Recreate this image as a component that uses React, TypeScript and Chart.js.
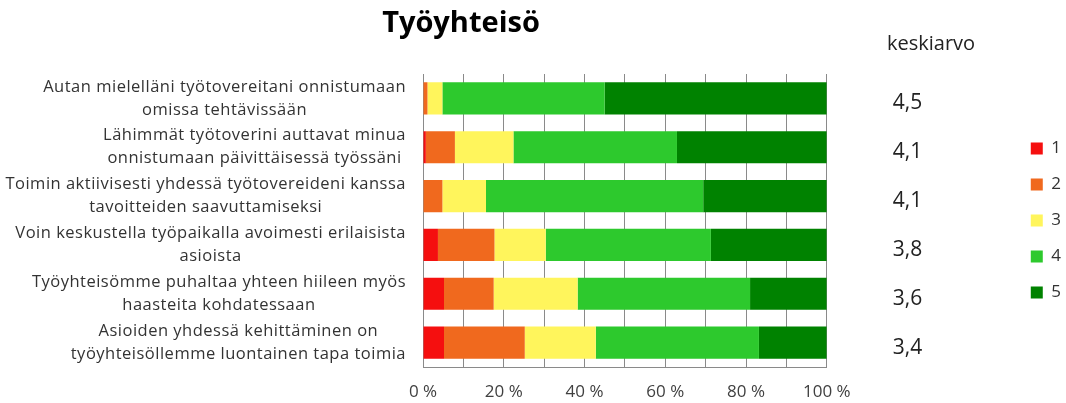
import React, { useEffect, useRef } from 'react';
import { Chart, registerables } from 'chart.js';

Chart.register(...registerables);

const categories: string[][] = [
  ['Autan mielelläni työtovereitani onnistumaan', 'omissa tehtävissään'],
  ['Lähimmät työtoverini auttavat minua', 'onnistumaan päivittäisessä työssäni'],
  ['Toimin aktiivisesti yhdessä työtovereideni kanssa', 'tavoitteiden saavuttamiseksi'],
  ['Voin keskustella työpaikalla avoimesti erilaisista', 'asioista'],
  ['Työyhteisömme puhaltaa yhteen hiileen myös', 'haasteita kohdatessaan'],
  ['Asioiden yhdessä kehittäminen on', 'työyhteisöllemme luontainen tapa toimia'],
];
const seriesLabels = ['1', '2', '3', '4', '5'];
const series1 = [0, 0.7, 0, 3.7, 5.2, 5.2];
const series2 = [1.1, 7.2, 4.8, 14.0, 12.3, 20.0];
const series3 = [3.7, 14.5, 10.8, 12.7, 20.8, 17.6];
const series4 = [40.2, 40.5, 53.8, 40.9, 42.7, 40.4];
const series5 = [55.0, 37.1, 30.6, 28.7, 19.0, 16.8];
const averages = ['4,5', '4,1', '4,1', '3,8', '3,6', '3,4'];
const titleText = 'Työyhteisö';
const averageHeader = 'keskiarvo';

const colors = ['#F50F0F', '#F0691E', '#FFF55C', '#2DC92D', '#008200'];
const FONT = '"Open Sans", "Liberation Sans", sans-serif';

const overlay = {
  id: 'overlay',
  afterDraw(chart: any) {
    const ctx = chart.ctx as CanvasRenderingContext2D;
    const y = chart.scales.y;
    ctx.save();
    ctx.textBaseline = 'middle';
    ctx.fillStyle = '#000';
    ctx.textAlign = 'center';
    ctx.font = `bold 29px ${FONT}`;
    ctx.fillText(titleText, 461, 24);
    ctx.textAlign = 'left';
    ctx.fillStyle = '#222';
    ctx.font = `20px ${FONT}`;
    ctx.fillText(averageHeader, 887, 44);
    ctx.font = `16.5px ${FONT}`;
    (ctx as any).letterSpacing = '0.5px';
    ctx.fillStyle = '#333';
    ctx.textAlign = 'center';
    categories.forEach((lines, i) => {
      const cy = y.getPixelForValue(i);
      const maxW = Math.max(...lines.map((l) => ctx.measureText(l).width));
      const cx = chart.chartArea.left - 17 - maxW / 2;
      lines.forEach((l, j) => ctx.fillText(l, cx, cy + (j - (lines.length - 1) / 2) * 23));
    });
    ctx.restore();
  },
};

export default function App() {
  const ref = useRef<HTMLCanvasElement>(null);
  useEffect(() => {
    document.body.style.margin = '0';
    const seriesData = [series1, series2, series3, series4, series5];
    const chart = new Chart(ref.current!, {
      type: 'bar',
      data: {
        labels: categories,
        datasets: seriesLabels.map((l, i) => ({
          label: l,
          data: seriesData[i],
          backgroundColor: colors[i],
          borderWidth: 0,
          barPercentage: 0.66,
          categoryPercentage: 1,
        })),
      },
      options: {
        indexAxis: 'y',
        responsive: false,
        animation: false,
        layout: { padding: { top: 74, right: -5, left: 0, bottom: 0 } },
        plugins: {
          title: { display: false },
          tooltip: { enabled: false },
          legend: {
            position: 'right',
            align: 'center',
            fullSize: false,
            labels: {
              boxWidth: 12,
              boxHeight: 12,
              padding: 19,
              color: '#333',
              font: { size: 17, family: FONT },
            },
          },
        },
        scales: {
          x: {
            stacked: true,
            min: 0,
            max: 100,
            grid: { color: '#8a8a8a', drawTicks: false },
            border: { color: '#8a8a8a' },
            ticks: {
              stepSize: 10,
              autoSkip: false,
              maxRotation: 0,
              padding: 15,
              color: '#404040',
              font: { size: 17, family: FONT },
              callback: (v: any) => (Number(v) % 20 === 0 ? `${v} %` : ''),
            },
            afterFit: (s: any) => {
              s.height = 36;
            },
          },
          y: {
            stacked: true,
            grid: { display: false, drawTicks: false },
            border: { display: true, color: '#8a8a8a' },
            ticks: { display: false },
            afterFit: (s: any) => {
              s.width = 423;
              s.paddingTop = 0;
              s.paddingBottom = 0;
            },
          },
          y2: {
            type: 'category',
            labels: averages,
            position: 'right',
            offset: true,
            grid: { display: false, drawTicks: false },
            border: { display: false },
            ticks: { padding: 66, labelOffset: 5, color: '#222', font: { size: 21, family: FONT } },
            afterFit: (s: any) => {
              s.width = 185;
              s.paddingTop = 0;
              s.paddingBottom = 0;
            },
          },
        },
      },
      plugins: [overlay],
    });
    return () => chart.destroy();
  }, []);
  return (
    <div style={{ width: 1066, height: 403 }}>
      <canvas ref={ref} width={1066} height={403} />
    </div>
  );
}
